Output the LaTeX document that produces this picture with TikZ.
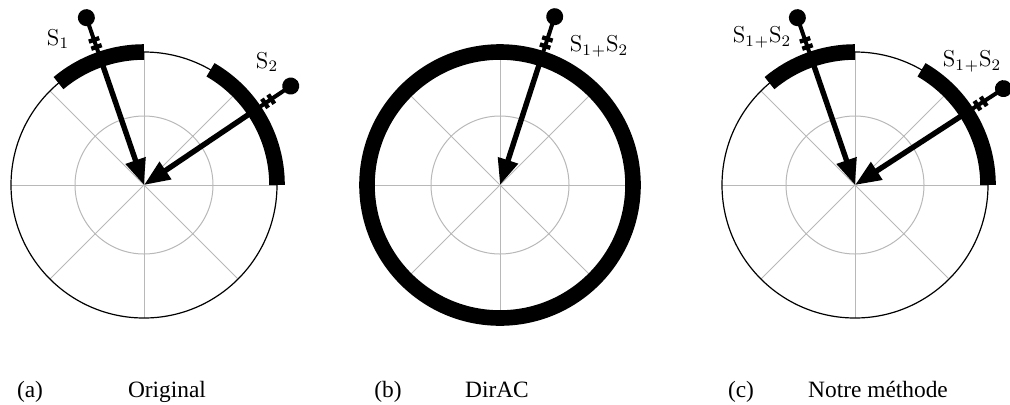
\documentclass[tikz,border=0pt]{standalone}
\usepackage{fontspec}
\newfontfamily\capfont{Liberation Serif}
\usetikzlibrary{arrows.meta}
\tikzset{
  gridline/.style={draw=black!28, line width=0.5pt},
  rim/.style={draw=black, line width=0.6pt},
  sector/.style={draw=black, line width=7.8pt},
  shaft/.style={draw=black, line width=2.7pt, -{Triangle[length=13pt,width=10pt]}},
  stem/.style={draw=black, line width=2pt},
  bar/.style={draw=black, line width=2.2pt},
  srclabel/.style={font=\fontsize{11.5}{13}\selectfont, inner sep=0pt},
  caption/.style={font=\capfont\fontsize{11.7}{14}\selectfont, anchor=base, inner sep=0pt}
}
\newcommand{\polargrid}{%
  \foreach \a in {0,45,...,315} \draw[gridline] (0,0) -- (\a:133);
  \draw[gridline] (0,0) circle (69);
}
\newcommand{\srcpin}[1]{%
  \begin{scope}[rotate=#1]
    \draw[stem] (133,0) -- (176,0);
    \draw[bar] (146,-5.5) -- (146,5.5);
    \draw[bar] (153.5,-5.5) -- (153.5,5.5);
    \fill (177,0) circle (8.5);
    \draw[shaft] (133,0) -- (0,0);
  \end{scope}
}
\begin{document}
\begin{tikzpicture}[x=0.5pt,y=0.5pt]
\useasboundingbox (0,0) rectangle (1010,404);
% (a) Original
\begin{scope}[shift={(144,219)}]
  \polargrid
  \draw[rim] (0,0) circle (133);
  \draw[sector] (90:133) arc (90:130:133);
  \draw[sector] (0:133) arc (0:60:133);
  \srcpin{109}
  \srcpin{34}
\end{scope}
\node[srclabel] (la1) at (58,365) {S$_1$};
\node[srclabel] (la2) at (267,342) {S$_2$};
% (b) DirAC
\begin{scope}[shift={(500,219)}]
  \polargrid
  \draw[sector] (0,0) circle (133);
  \srcpin{72}
\end{scope}
\node[srclabel] (lb) at (599,358) {S$_1$$_+$S$_2$};
% (c) Notre methode
\begin{scope}[shift={(855,219)}]
  \polargrid
  \draw[rim] (0,0) circle (133);
  \draw[sector] (90:133) arc (90:130:133);
  \draw[sector] (0:133) arc (0:60:133);
  \srcpin{109}
  \srcpin{33}
\end{scope}
\node[srclabel] (lc1) at (762,367) {S$_1$$_+$S$_2$};
\node[srclabel] (lc2) at (972,343) {S$_1$$_+$S$_2$};
% captions
\node[caption] (ca) at (30,7) {(a)};
\node[caption] (cat) at (167,7) {Original};
\node[caption] (cb) at (388,7) {(b)};
\node[caption] (cbt) at (497,7) {DirAC};
\node[caption] (cc) at (741,7) {(c)};
\node[caption] (cct) at (878,7) {Notre méthode};
\end{tikzpicture}
\end{document}
